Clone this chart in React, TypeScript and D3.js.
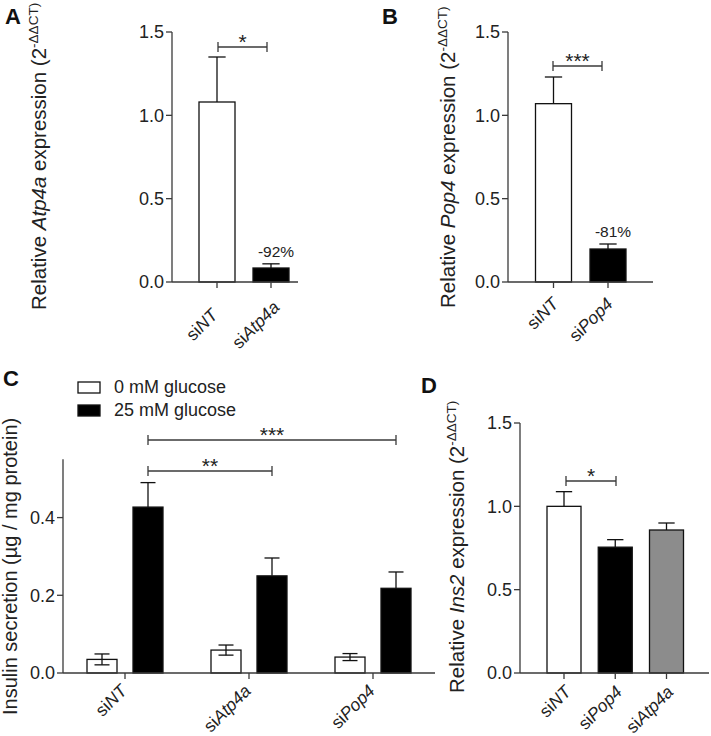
import React from "react";
import * as d3 from "d3";

const FONT = "'Liberation Sans', Arial, Helvetica, sans-serif";

// ---------- Data ----------
// Panel A: Atp4a knockdown
const catsA = ["NT", "Atp4a"];
const meanA = [1.08, 0.084];
const semA = [0.27, 0.025];
const pctA = ["", "-92%"];
// Panel B: Pop4 knockdown
const catsB = ["NT", "Pop4"];
const meanB = [1.07, 0.198];
const semB = [0.16, 0.03];
const pctB = ["", "-81%"];
// Panel C: insulin secretion
const catsC = ["NT", "Atp4a", "Pop4"];
const seriesC = ["0 mM glucose", "25 mM glucose"];
const glucose0 = [0.035, 0.059, 0.041];
const glucose0Sem = [0.014, 0.013, 0.009];
const glucose25 = [0.427, 0.25, 0.218];
const glucose25Sem = [0.063, 0.046, 0.042];
// Panel D: Ins2 expression
const catsD = ["NT", "Pop4", "Atp4a"];
const meanD = [1.0, 0.755, 0.858];
const semD = [0.088, 0.045, 0.042];
const fillsD = ["#ffffff", "#000000", "#8c8c8c"];

const ticksExpr = [0, 0.5, 1.0, 1.5];
const ticksC = [0, 0.2, 0.4];

const AX = "#3a3a3a";
const fmt = d3.format(".1f");

function YAxis({ x, y, ticks, top }: any) {
  return (
    <g>
      <line x1={x} x2={x} y1={y(0)} y2={top} stroke={AX} strokeWidth={1.3} />
      {ticks.map((t: number) => (
        <g key={t}>
          <line x1={x - 6} x2={x} y1={y(t)} y2={y(t)} stroke={AX} strokeWidth={1.3} />
          <text x={x - 8} y={y(t)} dy="0.36em" textAnchor="end" fontSize={18} fill="#222">
            {fmt(t)}
          </text>
        </g>
      ))}
    </g>
  );
}

function XLabel({ x, y, name, anchor }: any) {
  return (
    <text
      transform={`translate(${x},${y}) rotate(-45)`}
      textAnchor={anchor}
      fontSize={17.5}
      fill="#222"
    >
      <tspan>si</tspan>
      <tspan fontStyle="italic">{name}</tspan>
    </text>
  );
}

function YLabel({ x, y, pre, gene, post, sup, size }: any) {
  return (
    <text transform={`translate(${x},${y}) rotate(-90)`} textAnchor="start" fontSize={size} fill="#222">
      <tspan>{pre}</tspan>
      {gene && <tspan fontStyle="italic">{gene}</tspan>}
      <tspan>{post}</tspan>
      {sup && (
        <tspan dy={-8} fontSize={13.5}>
          {sup}
        </tspan>
      )}
    </text>
  );
}

function Bracket({ x1, x2, y, stars }: any) {
  return (
    <g>
      <line x1={x1} x2={x2} y1={y} y2={y} stroke={AX} strokeWidth={1.3} />
      <line x1={x1} x2={x1} y1={y - 5} y2={y + 5} stroke={AX} strokeWidth={1.3} />
      <line x1={x2} x2={x2} y1={y - 5} y2={y + 5} stroke={AX} strokeWidth={1.3} />
      <text x={(x1 + x2) / 2} y={y + 2} textAnchor="middle" fontSize={21} fill="#222">
        {stars}
      </text>
    </g>
  );
}

function ErrBar({ x, yTop, yBot, cap, lowerCap }: any) {
  return (
    <g stroke="#111" strokeWidth={1.3}>
      <line x1={x} x2={x} y1={yBot} y2={yTop} />
      <line x1={x - cap / 2} x2={x + cap / 2} y1={yTop} y2={yTop} />
      {lowerCap && <line x1={x - cap / 2} x2={x + cap / 2} y1={yBot} y2={yBot} />}
    </g>
  );
}

function ExprPanel({
  letter, lx, ly, axisX, axisEnd, y0, yTop, cats, means, sems, fills, range, barW,
  labelX, labelStart, gene, bracket, pcts, xlab,
}: any) {
  const y = d3.scaleLinear().domain([0, 1.5]).range([y0, yTop]);
  const x = d3.scalePoint<string>().domain(cats).range(range);
  return (
    <g>
      <text x={lx} y={ly} fontSize={22} fontWeight="bold" fill="#111">
        {letter}
      </text>
      <YLabel x={labelX} y={labelStart} size={20.5} pre="Relative " gene={gene} post=" expression (2" sup="-ΔΔCT)" />
      {cats.map((c: string, i: number) => {
        const cx = x(c) as number;
        return (
          <g key={c}>
            <ErrBar x={cx} yTop={y(means[i] + sems[i])} yBot={y(means[i])} cap={barW * 0.48} />
            <rect
              x={cx - barW / 2}
              y={y(means[i])}
              width={barW}
              height={y(0) - y(means[i])}
              fill={fills[i]}
              stroke="#111"
              strokeWidth={1.3}
            />
            {pcts && pcts[i] && (
              <text x={cx + 5} y={y(means[i] + sems[i]) - 7} textAnchor="middle" fontSize={15.5} fill="#222">
                {pcts[i]}
              </text>
            )}
            <line x1={cx} x2={cx} y1={y0} y2={y0 + 6} stroke={AX} strokeWidth={1.3} />
            <XLabel x={cx + xlab[0]} y={y0 + xlab[1]} name={c} anchor={xlab[2]} />
          </g>
        );
      })}
      <line x1={axisX} x2={axisEnd} y1={y0} y2={y0} stroke={AX} strokeWidth={1.3} />
      <YAxis x={axisX} y={y} ticks={ticksExpr} top={yTop} />
      {bracket && <Bracket x1={bracket[0]} x2={bracket[1]} y={bracket[2]} stars={bracket[3]} />}
    </g>
  );
}

function PanelC() {
  const axisX = 63;
  const axisEnd = 435;
  const y = d3.scaleLinear().domain([0, 0.55]).range([673, 459.3]);
  const x = d3.scalePoint<string>().domain(catsC).range([125, 373]);
  const sub = d3.scalePoint<string>().domain(seriesC).range([-23, 23]);
  const barW = 30;
  const vals = [glucose0, glucose25];
  const sems = [glucose0Sem, glucose25Sem];
  const fills = ["#ffffff", "#000000"];
  const y0 = y(0);
  return (
    <g>
      <text x={3} y={386} fontSize={22} fontWeight="bold" fill="#111">C</text>
      {seriesC.map((s, k) => (
        <g key={s}>
          <rect x={78} y={382 + k * 23} width={22} height={11} fill={fills[k]} stroke="#111" strokeWidth={1.3} />
          <text x={114} y={393 + k * 23} fontSize={18} fill="#222">{s}</text>
        </g>
      ))}
      <YLabel x={17} y={715} size={20} pre="Insulin secretion (µg / mg protein)" post="" />
      {catsC.map((c, i) => {
        const gx = x(c) as number;
        return (
          <g key={c}>
            {seriesC.map((s, k) => {
              const cx = gx + (sub(s) as number);
              const v = vals[k][i];
              const e = sems[k][i];
              const white = k === 0;
              return (
                <g key={s}>
                  <rect x={cx - barW / 2} y={y(v)} width={barW} height={y0 - y(v)} fill={fills[k]} stroke="#111" strokeWidth={1.3} />
                  <ErrBar
                    x={cx}
                    yTop={y(v + e)}
                    yBot={white ? y(v - e) : y(v)}
                    cap={barW * 0.5}
                    lowerCap={white}
                  />
                </g>
              );
            })}
            <line x1={gx} x2={gx} y1={y0} y2={y0 + 6} stroke={AX} strokeWidth={1.3} />
            <XLabel x={gx + 3} y={y0 + 19} name={c} anchor="end" />
          </g>
        );
      })}
      <line x1={axisX} x2={axisEnd} y1={y0} y2={y0} stroke={AX} strokeWidth={1.3} />
      <YAxis x={axisX} y={y} ticks={ticksC} top={y(0.55)} />
      <Bracket x1={(x("NT") as number) + 23} x2={(x("Atp4a") as number) + 23} y={471} stars="**" />
      <Bracket x1={(x("NT") as number) + 23} x2={(x("Pop4") as number) + 23} y={440} stars="***" />
    </g>
  );
}

export default function App() {
  return (
    <svg
      width={711}
      height={736}
      style={{ position: "absolute", left: 0, top: 0, background: "#fff" }}
      fontFamily={FONT}
    >
      <rect width={711} height={736} fill="#fff" />
      <ExprPanel
        letter="A" lx={5} ly={24} axisX={172} axisEnd={298} y0={282} yTop={32}
        cats={catsA} means={meanA} sems={semA} fills={["#ffffff", "#000000"]}
        range={[217, 271]} barW={36} labelX={46} labelStart={310} gene="Atp4a"
        bracket={[218, 267, 47, "*"]} pcts={pctA} xlab={[-11, 47, "middle"]}
      />
      <ExprPanel
        letter="B" lx={382} ly={24} axisX={508} axisEnd={653} y0={282} yTop={32}
        cats={catsB} means={meanB} sems={semB} fills={["#ffffff", "#000000"]}
        range={[553.5, 608]} barW={36} labelX={455} labelStart={308} gene="Pop4"
        bracket={[553, 602, 66, "***"]} pcts={pctB} xlab={[6, 23, "end"]}
      />
      <PanelC />
      <ExprPanel
        letter="D" lx={421} ly={393} axisX={520} axisEnd={709} y0={673} yTop={423}
        cats={catsD} means={meanD} sems={semD} fills={fillsD}
        range={[564, 666.5]} barW={34} labelX={464} labelStart={693} gene="Ins2"
        bracket={[566, 616, 481, "*"]} pcts={null} xlab={[8, 20, "end"]}
      />
    </svg>
  );
}
